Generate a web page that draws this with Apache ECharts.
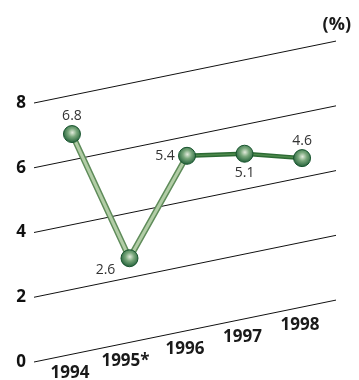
<!DOCTYPE html>
<html>
<head>
<meta charset="utf-8">
<script src="https://cdn.jsdelivr.net/npm/echarts@6/dist/echarts.min.js"></script>
<style>
  html, body { margin: 0; padding: 0; background: #fff; }
  #chart { width: 359px; height: 380px; }
</style>
</head>
<body>
<div id="chart"></div>
<script>
// Annual rates (%) by year
const categories = ['1994', '1995*', '1996', '1997', '1998'];
const growthRates = [6.8, 2.6, 5.4, 5.1, 4.6];
const yTicks = [0, 2, 4, 6, 8];

// Presentation settings
const X_MIN = -0.66;
const X_MAX = 4.59;
const SLOPE = 0.205;            // rise of the slanted plane, px per px
const FONT = '"Open Sans", "Noto Sans", sans-serif';
// offsets of each value label from its marker
const labelOffsets = [[0, -18], [-24, 12], [-22, 0], [0, 19], [0, -17]];
// segments drawn in the light tube style (index of starting point)
const lightSegments = [0, 1];

// Shear a grid point so the plane rises toward the right
function slant(api, p) {
  const x0 = api.coord([X_MIN, 0])[0];
  return [p[0], p[1] - SLOPE * (p[0] - x0)];
}

const segmentData = growthRates.slice(0, -1).map((v, i) => [i, v, growthRates[i + 1]]);
const pointData = growthRates.map((v, i) => [i, v]);

const chart = echarts.init(document.getElementById('chart'), null, { renderer: 'canvas' });

chart.setOption({
  animation: false,
  title: {
    text: '(%)',
    right: 3,
    top: 11,
    textStyle: { fontFamily: FONT, fontSize: 18, fontWeight: 'bold', color: '#1a1a1a' }
  },
  grid: { left: 34, right: 23, top: 103, bottom: 18 },
  xAxis: {
    type: 'value',
    min: X_MIN,
    max: X_MAX,
    show: false
  },
  yAxis: {
    type: 'value',
    min: 0,
    max: 8,
    interval: 2,
    axisLine: { show: false },
    axisTick: { show: false },
    splitLine: { show: false },
    axisLabel: {
      margin: 8,
      fontFamily: FONT,
      fontSize: 17,
      fontWeight: 'bold',
      color: '#111'
    }
  },
  series: [
    {
      // slanted gridlines
      type: 'custom',
      z: 1,
      data: yTicks,
      renderItem: function (params, api) {
        const v = api.value(0);
        const a = slant(api, api.coord([X_MIN, v]));
        const b = slant(api, api.coord([X_MAX, v]));
        return {
          type: 'line',
          shape: { x1: a[0], y1: a[1], x2: b[0], y2: b[1] },
          style: { stroke: '#111', lineWidth: 1 }
        };
      }
    },
    {
      // category labels along the base line
      type: 'custom',
      z: 2,
      data: categories.map((c, i) => i),
      renderItem: function (params, api) {
        const i = api.value(0);
        const p = slant(api, api.coord([i, 0]));
        return {
          type: 'text',
          x: p[0] - (i === 1 ? 4 : 2),
          y: p[1] + 18.5,
          style: {
            text: categories[i],
            fontFamily: FONT,
            fontSize: 17,
            fontWeight: 'bold',
            fill: '#1a1a1a',
            align: 'center',
            verticalAlign: 'middle'
          }
        };
      }
    },
    {
      // connecting tubes
      type: 'custom',
      z: 3,
      data: segmentData,
      renderItem: function (params, api) {
        const i = api.value(0);
        const a = slant(api, api.coord([i, api.value(1)]));
        const b = slant(api, api.coord([i + 1, api.value(2)]));
        const light = lightSegments.indexOf(i) >= 0;
        const shape = { x1: a[0], y1: a[1], x2: b[0], y2: b[1] };
        return {
          type: 'group',
          children: [
            { type: 'line', shape: shape,
              style: { stroke: light ? '#5f8c5a' : '#2c6a34', lineWidth: light ? 6 : 4.5, lineCap: 'round' } },
            { type: 'line', shape: shape,
              style: { stroke: light ? '#b2cda6' : '#4e8a4c', lineWidth: light ? 3 : 1.5, lineCap: 'round' } }
          ]
        };
      }
    },
    {
      // spherical markers with value labels
      type: 'custom',
      z: 4,
      data: pointData,
      renderItem: function (params, api) {
        const i = api.value(0);
        const v = api.value(1);
        const p = slant(api, api.coord([i, v]));
        const off = labelOffsets[i];
        return {
          type: 'group',
          children: [
            {
              type: 'circle',
              shape: { cx: p[0], cy: p[1], r: 8.5 },
              style: {
                fill: {
                  type: 'radial', x: 0.52, y: 0.42, r: 0.6,
                  colorStops: [
                    { offset: 0, color: '#e2ebdc' },
                    { offset: 0.4, color: '#78a77b' },
                    { offset: 1, color: '#175730' }
                  ]
                },
                stroke: '#16532d',
                lineWidth: 1
              }
            },
            {
              type: 'text',
              x: p[0] + off[0],
              y: p[1] + off[1],
              style: {
                text: v.toFixed(1),
                fontFamily: FONT,
                fontSize: 14,
                fill: '#333',
                align: 'center',
                verticalAlign: 'middle'
              }
            }
          ]
        };
      }
    }
  ]
});
</script>
</body>
</html>
